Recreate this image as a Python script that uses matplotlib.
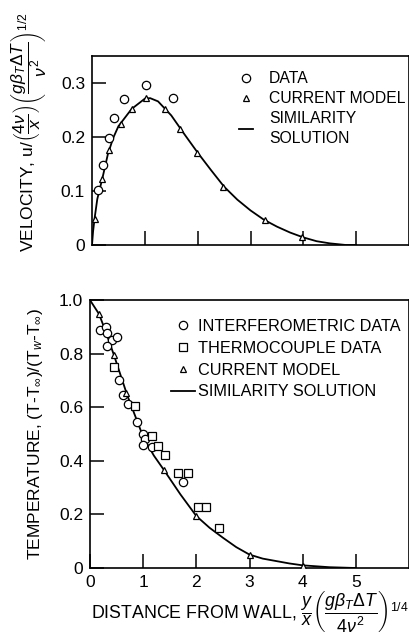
import matplotlib
matplotlib.use('Agg')
import matplotlib.pyplot as plt

plt.rcParams['font.family'] = ['Liberation Sans', 'DejaVu Sans']
plt.rcParams['mathtext.fontset'] = 'custom'
plt.rcParams['mathtext.rm'] = 'Liberation Sans'
plt.rcParams['mathtext.it'] = 'Liberation Sans:italic'
plt.rcParams['mathtext.bf'] = 'Liberation Sans:bold'

# --- velocity panel ---
vel_data_x = [0.11, 0.21, 0.32, 0.42, 0.60, 1.03, 1.53]
vel_data_y = [0.101, 0.149, 0.199, 0.236, 0.271, 0.297, 0.273]
vel_model_x = [0.05, 0.18, 0.32, 0.54, 0.76, 1.03, 1.39, 1.67, 1.99, 2.48, 3.28, 3.98]
vel_model_y = [0.049, 0.122, 0.176, 0.224, 0.252, 0.272, 0.252, 0.214, 0.171, 0.108, 0.046, 0.015]
vel_sim_x = [0, 0.02, 0.05, 0.1, 0.2, 0.3, 0.4, 0.5, 0.75, 1.0, 1.1, 1.25, 1.5, 1.75,
             2.0, 2.25, 2.5, 2.75, 3.0, 3.25, 3.5, 3.75, 4.0, 4.25, 4.5, 4.8, 5.0]
vel_sim_y = [0, 0.025, 0.05, 0.085, 0.125, 0.168, 0.198, 0.220, 0.252, 0.271, 0.272, 0.266,
             0.240, 0.205, 0.171, 0.139, 0.108, 0.084, 0.064, 0.047, 0.034, 0.023, 0.014,
             0.007, 0.003, 0.0, 0.0]

# --- temperature panel ---
int_x = [0.19, 0.31, 0.32, 0.41, 0.32, 0.51, 0.54, 0.62, 0.72, 0.88, 1.0, 1.03, 1.0, 1.16, 1.75]
int_y = [0.89, 0.90, 0.877, 0.85, 0.828, 0.863, 0.70, 0.645, 0.612, 0.546, 0.502, 0.48, 0.46,
         0.453, 0.322]
tc_x = [0.45, 0.85, 1.16, 1.27, 1.42, 1.65, 1.85, 2.04, 2.19, 2.43]
tc_y = [0.749, 0.604, 0.494, 0.456, 0.42, 0.353, 0.353, 0.229, 0.229, 0.148]
tmod_x = [0.17, 0.45, 0.68, 1.39, 2.0, 3.0, 4.0]
tmod_y = [0.948, 0.795, 0.655, 0.366, 0.194, 0.048, 0.007]
tsim_x = [0, 0.17, 0.3, 0.45, 0.7, 1.0, 1.2, 1.39, 1.7, 2.0, 2.25, 2.5, 2.75, 3.0, 3.25,
          3.5, 3.75, 4.0, 4.5, 5.0]
tsim_y = [1.0, 0.948, 0.88, 0.795, 0.645, 0.49, 0.42, 0.366, 0.275, 0.194, 0.15, 0.113,
          0.078, 0.05, 0.035, 0.026, 0.017, 0.01, 0.003, 0.0]

fig = plt.figure(figsize=(4.1, 6.44), dpi=100)
ax1 = fig.add_axes([0.2244, 0.6196, 0.7732, 0.2934])
ax2 = fig.add_axes([0.2195, 0.118, 0.7781, 0.416])

mk = dict(mfc='white', mec='black', mew=0.9, ls='none', color='black')

ax1.plot(vel_sim_x, vel_sim_y, color='black', lw=1.3, label='SIMILARITY\nSOLUTION', zorder=2)
ax1.plot(vel_data_x, vel_data_y, marker='o', ms=6, label='DATA', zorder=3, **mk)
ax1.plot(vel_model_x, vel_model_y, marker='^', ms=5, label='CURRENT MODEL', zorder=3, **mk)
ax1.set_xlim(0, 6)
ax1.set_ylim(0, 0.35)
ax1.set_xticks([1, 2, 3, 4, 5])
ax1.set_xticklabels([])
ax1.set_yticks([0, 0.1, 0.2, 0.3])
ax1.set_yticklabels(['0', '0.1', '0.2', '0.3'])
ax1.set_ylabel(r'VELOCITY, u$/\left(\dfrac{4\nu}{x}\right)\left(\dfrac{g\beta_T\Delta T}{\nu^2}\right)^{1/2}$',
               fontsize=12.5)
ax1.yaxis.set_label_coords(-0.135, 0.6)
h, l = ax1.get_legend_handles_labels()
leg = ax1.legend([h[1], h[2], h[0]], [l[1], l[2], l[0]], loc='upper left',
                 bbox_to_anchor=(0.44, 0.96), frameon=False, fontsize=11.3, handlelength=0.9,
                 handletextpad=1.0, labelspacing=0.3, borderpad=0)
leg.get_texts()[2].set_linespacing(1.45)

ax2.plot(tsim_x, tsim_y, color='black', lw=1.3, label='SIMILARITY SOLUTION', zorder=2)
ax2.plot(int_x, int_y, marker='o', ms=6, label='INTERFEROMETRIC DATA', zorder=3, **mk)
ax2.plot(tc_x, tc_y, marker='s', ms=5.5, label='THERMOCOUPLE DATA', zorder=3, **mk)
ax2.plot(tmod_x, tmod_y, marker='^', ms=5, label='CURRENT MODEL', zorder=3, **mk)
ax2.set_xlim(0, 6)
ax2.set_ylim(0, 1.0)
ax2.set_xticks([0, 1, 2, 3, 4, 5])
ax2.set_yticks([0, 0.2, 0.4, 0.6, 0.8, 1.0])
ax2.set_yticklabels(['0', '0.2', '0.4', '0.6', '0.8', '1.0'])
ax2.set_ylabel(r'TEMPERATURE, (T-T$_\infty$)/(T$_w$-T$_\infty$)', fontsize=12.5, labelpad=10)
ax2.set_xlabel(r'DISTANCE FROM WALL, $\dfrac{y}{x}\left(\dfrac{g\beta_T\Delta T}{4\nu^2}\right)^{1/4}$',
               fontsize=12.8, labelpad=-1)
h, l = ax2.get_legend_handles_labels()
ax2.legend([h[1], h[2], h[3], h[0]], [l[1], l[2], l[3], l[0]], loc='upper left',
           bbox_to_anchor=(0.228, 0.96), frameon=False, fontsize=11.7, handlelength=1.5,
           handletextpad=0.2, labelspacing=0.42, borderpad=0)

for ax in (ax1, ax2):
    for s in ax.spines.values():
        s.set_linewidth(1.2)
    ax.tick_params(direction='in', length=10, width=1.1, labelsize=12.5, pad=5,
                   top=False, right=False)

fig.savefig('out.png', dpi=100)
